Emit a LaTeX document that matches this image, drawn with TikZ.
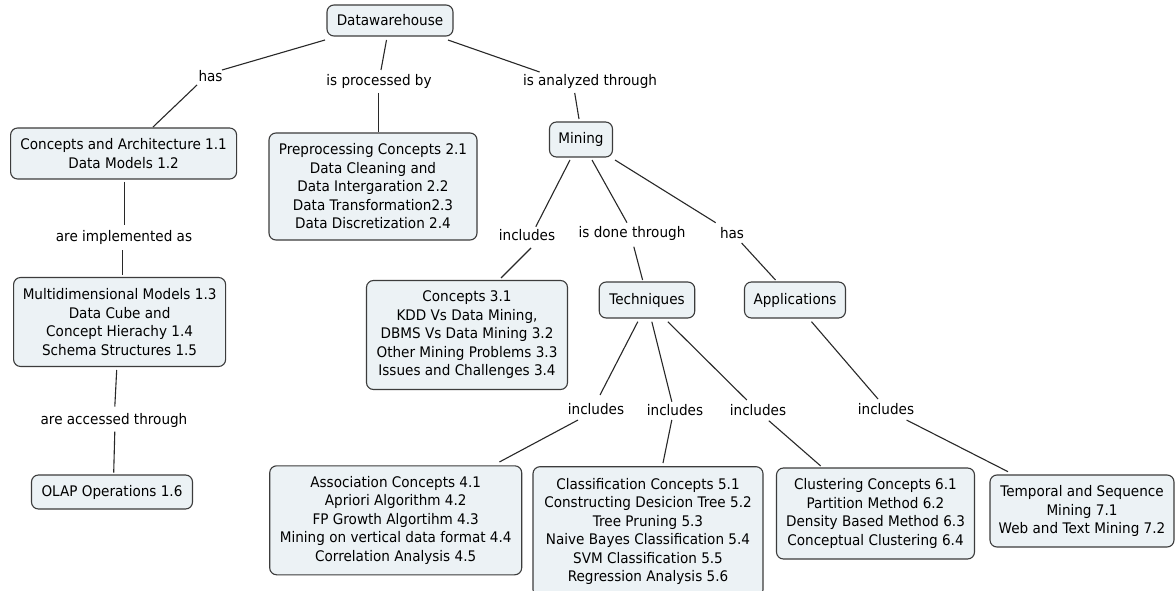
\documentclass[tikz,border=0pt]{standalone}
\usepackage{fontspec}
\newfontfamily\cmfont[FakeStretch=0.93]{DejaVu Sans}
\definecolor{boxfill}{RGB}{236,242,245}
\definecolor{boxline}{RGB}{60,60,60}
\definecolor{linkcol}{RGB}{40,40,40}
\begin{document}
\begin{tikzpicture}[x=1pt,y=-1pt,
  font={\cmfont\fontsize{14.6pt}{18.5pt}\selectfont},
  box/.style={draw=boxline, fill=boxfill, rounded corners=7pt, line width=1.1pt, align=center, inner sep=2pt},
  lbl/.style={inner sep=1pt, align=center},
  link/.style={draw=linkcol, line width=1.1pt}]
\useasboundingbox (0,0) rectangle (1176,591);
\fill[white] (0,0) rectangle (1176,591);
% concepts
\node[box, minimum width=126pt, minimum height=31pt] (dw) at (390,20.5) {Datawarehouse};
\node[box, minimum width=226pt, minimum height=51pt] (ca) at (123.6,153.5) {Concepts and Architecture 1.1\\Data Models 1.2};
\node[box, minimum width=208pt, minimum height=107pt] (pp) at (373,186.5) {Preprocessing Concepts 2.1\\Data Cleaning and\\Data Intergaration 2.2\\Data Transformation2.3\\Data Discretization 2.4};
\node[box, minimum width=63pt, minimum height=35pt] (mining) at (581,139.5) {Mining};
\node[box, minimum width=212pt, minimum height=89pt] (mm) at (119.6,322) {Multidimensional Models 1.3\\Data Cube and\\Concept Hierachy 1.4\\Schema Structures 1.5};
\node[box, minimum width=161pt, minimum height=34pt] (olap) at (112,492) {OLAP Operations 1.6};
\node[box, minimum width=201pt, minimum height=109pt] (c3) at (467,335) {Concepts 3.1\\KDD Vs Data Mining,\\DBMS Vs Data Mining 3.2\\Other Mining Problems 3.3\\Issues and Challenges 3.4};
\node[box, minimum width=95.5pt, minimum height=36pt] (tech) at (647,300) {Techniques};
\node[box, minimum width=101pt, minimum height=36pt] (apps) at (795,300) {Applications};
\node[box, minimum width=252pt, minimum height=109pt] (assoc) at (395.7,520.3) {Association Concepts 4.1\\Apriori Algorithm 4.2\\FP Growth Algortihm 4.3\\Mining on vertical data format 4.4\\Correlation Analysis 4.5};
\node[box, minimum width=230pt, minimum height=130pt] (cls) at (648,531.7) {Classification Concepts 5.1\\Constructing Desicion Tree 5.2\\Tree Pruning 5.3\\Naive Bayes Classification 5.4\\SVM Classification 5.5\\Regression Analysis 5.6};
\node[box, minimum width=198pt, minimum height=91pt] (clu) at (875.5,513.5) {Clustering Concepts 6.1\\Partition Method 6.2\\Density Based Method 6.3\\Conceptual Clustering 6.4};
\node[box, minimum width=184pt, minimum height=72pt] (temp) at (1082,511) {Temporal and Sequence\\Mining 7.1\\Web and Text Mining 7.2};
% linking phrases
\node[lbl] (has1) at (210.5,76) {has};
\node[lbl] (ipb) at (379,81) {is processed by};
\node[lbl] (iat) at (590,81) {is analyzed through};
\node[lbl] (aia) at (124,237) {are implemented as};
\node[lbl] (aat) at (114,420) {are accessed through};
\node[lbl] (incm) at (527,235) {includes};
\node[lbl] (idt) at (632,233) {is done through};
\node[lbl] (has2) at (732,233) {has};
\node[lbl] (inc1) at (596,409) {includes};
\node[lbl] (inc2) at (675,410) {includes};
\node[lbl] (inc3) at (758,410) {includes};
\node[lbl] (inc4) at (886,409) {includes};
% connectors
\draw[link] ([shift={(-65,19.5)}]dw.center) -- ([shift={(11.5,-6)}]has1.center);
\draw[link] ([shift={(-13.5,9)}]has1.center) -- ([shift={(29.4,-26.5)}]ca.center);
\draw[link] ([shift={(-3.5,19.5)}]dw.center) -- ([shift={(2,-11)}]ipb.center);
\draw[link] ([shift={(-0.5,12)}]ipb.center) -- ([shift={(5.5,-54.5)}]pp.center);
\draw[link] ([shift={(0.9,28.5)}]ca.center) -- ([shift={(0.5,-12)}]aia.center);
\draw[link] ([shift={(58,19.5)}]dw.center) -- ([shift={(-50.4,-9)}]iat.center);
\draw[link] ([shift={(-15.3,12)}]iat.center) -- ([shift={(-2,-20.5)}]mining.center);
\draw[link] ([shift={(-1.5,13)}]aia.center) -- ([shift={(2.9,-47)}]mm.center);
\draw[link] ([shift={(-2.9,48)}]mm.center) -- ([shift={(0.8,-13.3)}]aat.center);
\draw[link] ([shift={(0.8,11.7)}]aat.center) -- ([shift={(1.7,-19.3)}]olap.center);
\draw[link] ([shift={(-11,20.5)}]mining.center) -- ([shift={(8.8,-8.3)}]incm.center);
\draw[link] ([shift={(4,13)}]incm.center) -- ([shift={(34,-57)}]c3.center);
\draw[link] ([shift={(11,20.5)}]mining.center) -- ([shift={(-5,-10.3)}]idt.center);
\draw[link] ([shift={(1.8,13.7)}]idt.center) -- ([shift={(-4.4,-20)}]tech.center);
\draw[link] ([shift={(34,20.5)}]mining.center) -- ([shift={(-16.3,-10.3)}]has2.center);
\draw[link] ([shift={(9.6,10)}]has2.center) -- ([shift={(-19.5,-20)}]apps.center);
\draw[link] ([shift={(-9.2,21.7)}]tech.center) -- ([shift={(4,-14)}]inc1.center);
\draw[link] ([shift={(-18,11)}]inc1.center) -- ([shift={(103.7,-58.3)}]assoc.center);
\draw[link] ([shift={(4.8,21.7)}]tech.center) -- ([shift={(-3.2,-8.3)}]inc2.center);
\draw[link] ([shift={(-3.2,10)}]inc2.center) -- ([shift={(15,-68.7)}]cls.center);
\draw[link] ([shift={(20.8,21.7)}]tech.center) -- ([shift={(-11.2,-10)}]inc3.center);
\draw[link] ([shift={(10.8,10.7)}]inc3.center) -- ([shift={(-54.8,-47.5)}]clu.center);
\draw[link] ([shift={(16.5,21.7)}]apps.center) -- ([shift={(-8,-10)}]inc4.center);
\draw[link] ([shift={(20.5,11)}]inc4.center) -- ([shift={(-74,-39.3)}]temp.center);
\end{tikzpicture}
\end{document}
